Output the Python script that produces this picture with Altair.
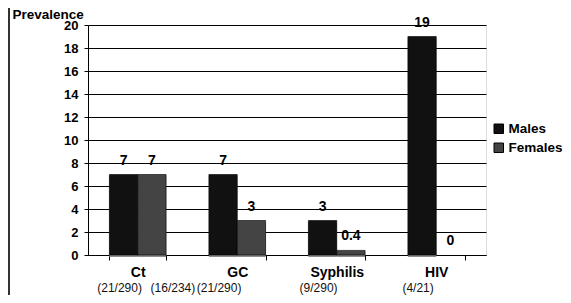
import altair as alt
import pandas as pd

categories = ["Ct", "GC", "Syphilis", "HIV"]
males = [7, 7, 3, 19]
females = [7, 3, 0.4, 0]
male_labels = ["7", "7", "3", "19"]
female_labels = ["7", "3", "0.4", "0"]
male_counts = ["(21/290)", "(21/290)", "(9/290)", "(4/21)"]
female_counts = ["(16/234)", "", "", ""]
series = ["Males", "Females"]
y_ticks = list(range(0, 21, 2))

rows = []
for i, c in enumerate(categories):
    rows.append({"cat": c, "sex": "Males", "v": males[i], "lab": male_labels[i], "cnt": male_counts[i]})
    rows.append({"cat": c, "sex": "Females", "v": females[i], "lab": female_labels[i], "cnt": female_counts[i]})
df = pd.DataFrame(rows)

FONT = "Liberation Sans"

x = alt.X("cat:N", sort=categories,
          scale=alt.Scale(paddingInner=0.43, paddingOuter=0.215),
          axis=alt.Axis(title=None, labelAngle=0, labelFontWeight="bold", labelFontSize=14,
                        labelColor="black", domainColor="black", tickColor="black",
                        tickSize=5, labelPadding=5, tickBand="extent", grid=False, labelFont=FONT))
xo = alt.XOffset("sex:N", sort=series)
y = alt.Y("v:Q", scale=alt.Scale(domain=[0, 20], nice=False),
          axis=alt.Axis(values=y_ticks, title="Prevalence", titleAngle=0, titleAlign="left",
                        titleBaseline="middle", titleX=-76, titleY=-10.5, titleFontSize=13.5,
                        titleFontWeight="bold", titleFont=FONT, titleColor="black",
                        labelFontWeight="bold", labelFontSize=13, labelColor="black", labelFont=FONT,
                        domainColor="black", tickColor="black", tickSize=4, labelPadding=6,
                        gridColor="black", gridWidth=1, gridOpacity=1))

color = alt.Color("sex:N", sort=series,
                  scale=alt.Scale(domain=series, range=["#111111", "#444444"]),
                  legend=alt.Legend(title=None, orient="none", legendX=404, legendY=97,
                                    symbolType="square", symbolSize=90, symbolStrokeColor="black",
                                    symbolStrokeWidth=1, labelFontSize=13.5, labelFontWeight="bold",
                                    labelFont=FONT, labelColor="black", labelOffset=3, rowPadding=4))

base = alt.Chart(df)

shadow = base.transform_filter("datum.v > 0").mark_bar(
    color="#8c8c8c", xOffset=2, x2Offset=2, yOffset=2
).encode(x=x, xOffset=xo, y=y)

bars = base.transform_filter("datum.v > 0").mark_bar(stroke="black", strokeWidth=0.6).encode(
    x=x, xOffset=xo, y=y, color=color)

labels = base.mark_text(dy=-14, baseline="middle", fontSize=14, fontWeight="bold",
                        font=FONT, color="black").encode(x=x, xOffset=xo, y=y, text="lab:N")

male_cnt = base.transform_filter("datum.sex == 'Males'").mark_text(
    baseline="middle", fontSize=12, font=FONT, color="#111111", dx=-4).encode(
    x=x, xOffset=xo, y=alt.value(263), text="cnt:N")

female_cnt = base.transform_filter("datum.sex == 'Females'").mark_text(
    baseline="middle", fontSize=12, font=FONT, color="#111111", dx=21).encode(
    x=x, xOffset=xo, y=alt.value(263), text="cnt:N")

border = base.mark_rule(color="#333333", strokeWidth=2).encode(
    x=alt.value(-79), y=alt.value(-25), y2=alt.value(275))

chart = alt.layer(shadow, bars, labels, male_cnt, female_cnt, border).properties(
    width=398, height=230, autosize=alt.AutoSizeParams(type="none"),
    padding={"left": 80, "top": 17, "right": 77, "bottom": 40}
).configure_view(stroke=None).configure(background="white")

chart.save("out.html", embed_options={"renderer": "svg", "actions": False})
